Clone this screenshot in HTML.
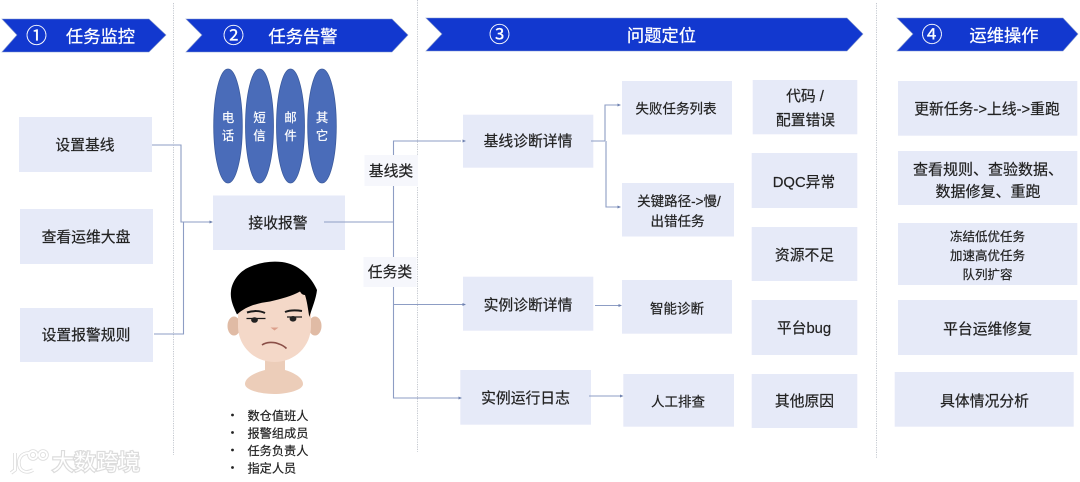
<!DOCTYPE html>
<html lang="zh">
<head>
<meta charset="utf-8">
<title>任务运维流程</title>
<style>
html,body{margin:0;padding:0;background:#fff;}
svg{display:block;}
text{font-family:"Liberation Sans","Noto Sans CJK SC",sans-serif;text-anchor:middle;dominant-baseline:central;fill:#222;stroke:#222;stroke-width:.2px;font-size:14.8px;transform:translateY(2px);}
.b{fill:#fff;stroke:#fff;stroke-width:.25px;font-size:17.300px;transform:translateY(1.500px);}
.n{fill:#fff;stroke:#fff;stroke-width:.2px;font-size:21px;transform:translateY(1.500px);}
.e{fill:#fff;stroke:#fff;font-size:12.300px;}
.s{font-size:13.500px;}
.xs{font-size:12.500px;}
.l{text-anchor:start;font-size:12.200px;}
.box rect{fill:#e6eaf8;}
.con{fill:none;stroke:#8d9dc4;stroke-width:1.1;}
.arr{fill:#6f82b0;}
.dot{stroke:#c4c8cf;stroke-width:1;stroke-dasharray:1.2 1.2;}
</style>
</head>
<body>
<svg width="1080" height="482" viewBox="0 0 1080 482" xmlns="http://www.w3.org/2000/svg">
<rect width="1080" height="482" fill="#fff"/>

<!-- dotted separators -->
<line class="dot" x1="173.5" y1="3" x2="173.5" y2="455"/>
<line class="dot" x1="417.5" y1="0" x2="417.5" y2="452"/>
<line class="dot" x1="876.5" y1="3" x2="876.5" y2="458"/>

<!-- banners -->
<g fill="#1238cf" stroke="#7f93c9" stroke-width=".6">
<polygon points="2,19 149,19 166,35 149,52 2,52 17,35"/>
<polygon points="186,19 392,19 408,35 392,52 186,52 202,35"/>
<polygon points="426,18 847,18 863,34 847,51 426,51 442,34"/>
<polygon points="897,18 1063,18 1078,34 1063,51 897,51 913,34"/>
</g>
<text class="n" x="36.5" y="35">①</text><text class="b" x="100.5" y="35">任务监控</text>
<text class="n" x="233.5" y="35">②</text><text class="b" x="303" y="35">任务告警</text>
<text class="n" x="499.5" y="34">③</text><text class="b" x="661.5" y="34">问题定位</text>
<text class="n" x="932" y="34">④</text><text class="b" x="1004" y="34">运维操作</text>

<!-- boxes -->
<g class="box">
<rect x="19" y="117" width="133" height="55"/>
<rect x="20" y="209" width="133" height="55"/>
<rect x="20" y="308" width="133" height="54"/>
<rect x="213" y="195.500" width="132" height="54.500"/>
<rect x="463" y="114.700" width="130.300" height="53"/>
<rect x="622" y="81" width="110" height="53.500"/>
<rect x="622" y="183" width="112" height="53.500"/>
<rect x="463" y="276.700" width="130.300" height="54"/>
<rect x="622" y="280" width="110" height="53.700"/>
<rect x="460.300" y="370" width="130.700" height="54.700"/>
<rect x="623.300" y="374" width="110.700" height="52.700"/>
<rect x="752.700" y="80" width="104.600" height="54.300"/>
<rect x="751.700" y="153" width="105.600" height="55"/>
<rect x="751.700" y="227" width="105.600" height="54"/>
<rect x="751.700" y="300" width="105.600" height="55"/>
<rect x="751.700" y="374" width="105.600" height="54"/>
<rect x="898" y="81" width="179.300" height="54.700"/>
<rect x="898" y="151" width="179.300" height="54"/>
<rect x="898" y="223" width="179.300" height="62"/>
<rect x="898" y="300" width="179.300" height="55"/>
<rect x="894.700" y="372" width="179" height="54.700"/>
</g>

<!-- connectors -->
<g class="con">
<path d="M152 145H181V222H211"/>
<path d="M154 334H183.500V222"/>
<path d="M324 222H393.500"/>
<path d="M461 141H393.500V398H460"/>
<path d="M393.500 304.500H464"/>
<path d="M591 141H605M605 141V105H619M606 141V207H619"/>
<path d="M595 305.500H620"/>
<path d="M589 396H622"/>
</g>
<g class="arr">
<polygon points="213,222 209.500,220.500 209.500,223.500"/>
<polygon points="466,141 462.500,139.500 462.500,142.500"/>
<polygon points="466,304.500 462.500,303 462.500,306"/>
<polygon points="462,398 458.500,396.500 458.500,399.500"/>
<polygon points="621,105 617.500,103.500 617.500,106.500"/>
<polygon points="621,207 617.500,205.500 617.500,208.500"/>
<polygon points="622,305.500 618.500,304 618.500,307"/>
<polygon points="623.500,396 620,394.500 620,397.500"/>
</g>

<!-- category labels -->
<rect x="364.500" y="155" width="53.500" height="31" fill="#f6f7fc"/>
<rect x="363.500" y="257" width="53" height="30" fill="#f6f7fc"/>
<text x="391" y="170">基线类</text>
<text x="390" y="271">任务类</text>

<!-- box labels -->
<text x="85" y="144">设置基线</text>
<text x="86" y="236">查看运维大盘</text>
<text x="86" y="334">设置报警规则</text>
<text x="278" y="222">接收报警</text>
<text x="528" y="140">基线诊断详情</text>
<text class="s" x="676" y="107">失败任务列表</text>
<text class="s" x="679" y="199.500">关键路径-&gt;慢/</text>
<text class="s" x="677.500" y="219.500">出错任务</text>
<text x="528" y="304">实例诊断详情</text>
<text class="s" x="677" y="307">智能诊断</text>
<text x="525.500" y="397">实例运行日志</text>
<text class="s" x="678" y="400">人工排查</text>
<text x="805" y="95">代码 /</text>
<text x="805.500" y="119">配置错误</text>
<text x="804" y="181">DQC异常</text>
<text x="804.500" y="254">资源不足</text>
<text x="804" y="327">平台bug</text>
<text x="804.500" y="400">其他原因</text>
<text x="987" y="108">更新任务-&gt;上线-&gt;重跑</text>
<text x="988" y="168" style="font-size:15px">查看规则、查验数据、</text>
<text x="988" y="190" style="font-size:15px">数据修复、重跑</text>
<text class="xs" x="987.500" y="235">冻结低优任务</text>
<text class="xs" x="987.500" y="254">加速高优任务</text>
<text class="xs" x="987.500" y="273">队列扩容</text>
<text x="987.500" y="328">平台运维修复</text>
<text x="984.500" y="400">具体情况分析</text>

<!-- ellipses -->
<g fill="#4a6cb9" stroke="#3b5a9c" stroke-width=".8">
<ellipse cx="228" cy="126" rx="14.300" ry="57"/>
<ellipse cx="259.500" cy="126" rx="14" ry="57"/>
<ellipse cx="290.500" cy="126" rx="14" ry="57"/>
<ellipse cx="322" cy="126" rx="14.300" ry="57"/>
</g>
<text class="e" x="228" y="116">电</text><text class="e" x="228" y="134">话</text>
<text class="e" x="259.500" y="116">短</text><text class="e" x="259.500" y="134">信</text>
<text class="e" x="290.500" y="116">邮</text><text class="e" x="290.500" y="134">件</text>
<text class="e" x="322" y="116">其</text><text class="e" x="322" y="134">它</text>

<!-- face -->
<path d="M265 358H285V370C292 372 303 377 303 384C303 390 288 394 274 394C260 394 245 390 245 384C245 377 257 372 265 370Z" fill="#eccdb9"/>
<ellipse cx="234" cy="326" rx="6.500" ry="9.500" fill="#e0bba5"/>
<ellipse cx="315" cy="326" rx="6.500" ry="9.500" fill="#e0bba5"/>
<path d="M238 285H311V326C311 346 295 362 274.500 362C254 362 238 346 238 326Z" fill="#f4d8c8"/>
<path d="M237 314.500C233 306 230 299 231 291C232 281 240 270 252 266C262 262 272 261 282 262C298 264 311 276 317 290C316 299 312 308 309.300 317C308 309 307 301 305 295C302 295 301 293 300 291.500C292 296 281 299 270 301.500C258 303 246 306 237 314.500Z" fill="#000"/>
<path d="M247 312.500C253 310.500 260 310.500 265 313M285 312C290 310 296 310 302 311" fill="none" stroke="#1a1a1a" stroke-width="2"/>
<path d="M246.500 318.500H265.500M287 317H302" stroke="#1a1a1a" stroke-width="1.300"/>
<ellipse cx="254.500" cy="320" rx="3.400" ry="2.800" fill="#222"/>
<ellipse cx="293" cy="318.800" rx="3.400" ry="2.800" fill="#222"/>
<path d="M270.500 327.500H278.500L274.500 330.500Z" fill="#dc9f8b"/>
<path d="M262 345C266 342 274 341.500 279 344C282 345 285 347 286.500 348.500" fill="none" stroke="#8a4f47" stroke-width="1.600"/>

<!-- bullet list -->
<g>
<circle cx="232.500" cy="415" r="1.400" fill="#222"/>
<circle cx="232.500" cy="432.500" r="1.400" fill="#222"/>
<circle cx="232.500" cy="450" r="1.400" fill="#222"/>
<circle cx="232.500" cy="467.500" r="1.400" fill="#222"/>
<text class="l" x="247.500" y="414">数仓值班人</text>
<text class="l" x="247.500" y="431.500">报警组成员</text>
<text class="l" x="247.500" y="449">任务负责人</text>
<text class="l" x="247.500" y="466.500">指定人员</text>
</g>

<!-- watermark -->
<g fill="none" stroke="#dcdcdc" stroke-width="3.600">
<path d="M15 453V470L11 473"/>
<path d="M29 453C21 453 18 459 19 465C20 471 26 474 33 470"/>
<circle cx="33" cy="455" r="4"/>
<circle cx="43" cy="455" r="4"/>
</g>
<g fill="none" stroke="#fff" stroke-width="2">
<path d="M15 453V470L11 473"/>
<path d="M29 453C21 453 18 459 19 465C20 471 26 474 33 470"/>
<circle cx="33" cy="455" r="4"/>
<circle cx="43" cy="455" r="4"/>
</g>
<text x="96" y="460.500" style="font-size:22px;fill:#fff;stroke:#dcdcdc;stroke-width:2.400px;paint-order:stroke">大数跨境</text>
</svg>
</body>
</html>
